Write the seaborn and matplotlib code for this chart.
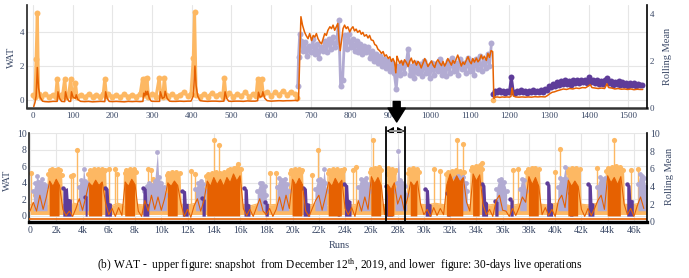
import numpy as np
import matplotlib
matplotlib.use("Agg")
import matplotlib.pyplot as plt
import seaborn as sns
from matplotlib.lines import Line2D

# ---------------- colours ----------------
C_LO = "#fdb863"   # light orange
C_DO = "#e66101"   # dark orange (rolling mean)
C_LP = "#b2abd2"   # light purple
C_DP = "#5e3c99"   # dark purple
TXT = "#3a4866"

# ---------------- upper chart data (Runs, WAT) ----------------
TOP_LO = [(0,0.3),(5,0.15),(8,2.4),(11,5.1),(14,0.35),(20,0.2),(30,0.35),(40,0.2),(50,0.3),(57,0.15),
          (61,1.25),(65,0.3),(70,0.2),(75,0.35),(80,1.25),(84,0.2),(90,0.3),(95,1.25),(99,0.25),(103,0.35),
          (107,1.0),(111,0.2),(120,0.3),(130,0.15),(140,0.35),(150,0.2),(160,0.3),(170,0.2),(177,0.35),
          (181,1.25),(185,0.25),(190,0.35),(200,0.2),(210,0.3),(220,0.15),(230,0.35),(240,0.2),(250,0.3),
          (260,0.2),(270,0.35),(276,1.25),(279,0.3),(281,1.25),(284,0.3),(287,1.3),(291,0.2),(300,0.35),
          (310,0.2),(318,1.3),(322,0.3),(327,0.2),(331,1.32),(335,0.3),(340,0.2),(350,0.35),(360,0.2),
          (370,0.3),(380,0.45),(390,0.25),(398,0.35),(404,2.5),(407,5.15),(411,0.3),(420,0.2),(430,0.35),
          (440,0.2),(450,0.4),(460,0.25),(470,0.35),(478,0.2),(482,1.3),(486,0.3),(495,0.4),(505,0.2),
          (515,0.35),(525,0.25),(535,0.45),(545,0.2),(555,0.35),(562,0.25),(566,1.25),(570,0.3),(576,1.25),
          (580,0.35),(590,0.5),(600,0.25),(610,0.45),(620,0.3),(630,0.55),(640,0.3),(650,0.5),(660,0.35),
          (666,0.1)]
TOP_LO_TAIL = (1160, 0.02)

TOP_LP_HEAD = [(667,0.85),(669,2.55),(672,3.9)]
TOP_LP_START, TOP_LP_STEP = 675, 5
TOP_LP_VALS = [3.5,2.9,3.4,2.6,3.2,2.8,3.6,2.7,3.3,2.5,3.1,2.9,3.5,2.8,3.6,3.0,3.7,3.1,3.4,4.7,
               0.8,1.15,3.8,3.0,3.9,3.1,3.6,2.9,3.5,2.8,3.3,2.7,3.2,2.8,3.1,2.5,2.9,2.3,2.7,2.2,
               2.6,2.0,2.4,1.9,2.3,1.7,2.2,1.6,0.65,2.0,1.5,2.2,1.6,2.1,3.0,1.5,2.0,1.3,2.2,1.6,
               2.1,1.4,2.3,1.6,2.0,1.3,2.2,1.5,2.1,1.7,2.4,1.5,2.0,1.4,2.3,1.6,2.5,1.7,2.2,1.5,
               2.4,1.8,2.2,1.6,2.5,1.7,2.3,1.5,2.4,1.8,2.6,1.7,2.3,1.9,2.7,2.0,3.35]

TOP_DP_START, TOP_DP_STEP = 1160, 5
TOP_DP_VALS = [0.35,0.55,0.45,0.6,0.45,0.55,0.4,0.55,0.45,1.37,0.5,0.4,0.55,0.45,0.6,0.45,0.55,0.4,
               0.55,0.45,0.6,0.45,0.55,0.5,0.6,0.5,0.65,0.6,0.8,0.75,0.95,0.85,1.05,0.9,1.1,0.95,
               1.15,0.95,1.1,0.9,1.15,1.0,1.2,1.0,1.15,1.05,1.2,1.0,1.35,1.05,1.2,1.0,1.15,0.95,
               1.1,0.95,1.15,1.28,1.0,1.1,0.9,1.05,0.95,1.1,0.9,1.05,0.9,1.0,0.85,1.0,0.9,1.0,
               0.85,0.95,0.9,0.9]

# rolling mean (right axis units)
TOP_DO = [(2,0.05),(5,0.22),(8,0.5),(11,1.72),(14,0.85),(18,0.45),(24,0.28),(30,0.26),(40,0.25),(50,0.27),
          (61,0.27),(63,0.68),(67,0.4),(72,0.27),(80,0.26),(82,0.68),(86,0.4),(91,0.27),(95,0.27),(97,0.68),
          (101,0.45),(107,0.4),(109,0.55),(113,0.35),(120,0.27),(130,0.26),(140,0.27),(150,0.25),(160,0.26),
          (170,0.27),(181,0.26),(183,0.68),(187,0.4),(192,0.27),(200,0.26),(210,0.27),(220,0.26),(230,0.25),
          (240,0.27),(250,0.26),(260,0.27),(270,0.26),(277,0.27),(279,0.62),(282,0.5),(284,0.7),(287,0.55),
          (289,0.7),(293,0.4),(298,0.28),(305,0.27),(312,0.27),(319,0.27),(321,0.68),(326,0.4),(331,0.45),
          (333,0.7),(338,0.4),(344,0.28),(350,0.27),(360,0.27),(370,0.28),(380,0.27),(390,0.28),(398,0.28),
          (404,0.5),(408,1.78),(411,0.95),(415,0.5),(421,0.3),(430,0.28),(440,0.27),(450,0.28),(460,0.28),
          (470,0.27),(481,0.28),(484,0.68),(488,0.4),(493,0.28),(500,0.27),(510,0.28),(520,0.28),(530,0.27),
          (540,0.29),(550,0.28),(560,0.28),(566,0.3),(568,0.66),(572,0.45),(577,0.5),(579,0.68),(584,0.4),
          (590,0.3),(600,0.28),(610,0.29),(620,0.3),(630,0.29),(640,0.3),(650,0.3),(660,0.31),(667,0.3),
          (669,0.35),(675,3.89),(679,3.53),(684,3.24),(688,3.09),(693,2.95),(697,3.17),(702,2.87),(706,3.09),
          (710,3.02),(714,3.17),(718,2.95),(723,2.8),(727,2.73),(731,2.95),(735,3.17),(739,3.09),(743,3.31),
          (748,3.46),(752,3.38),(756,3.53),(760,3.31),(764,3.46),(768,3.6),(771,2.87),(774,2.44),(778,2.95),
          (781,3.38),(785,3.53),(789,3.38),(793,3.46),(798,3.24),(802,3.38),(806,3.46),(810,3.28),(814,3.36),
          (818,3.22),(823,3.3),(827,3.14),(831,3.22),(835,3.06),(840,3.12),(844,2.98),(848,3.09),(852,2.9),
          (857,2.87),(861,2.7),(865,2.66),(869,2.5),(873,2.44),(878,2.32),(882,2.4),(886,2.2),(890,2.26),
          (895,2.1),(899,2.18),(903,1.98),(907,2.1),(911,1.93),(914,1.49),(917,2.2),(920,2.05),(924,1.9),
          (928,2.02),(932,1.82),(936,2.05),(941,1.92),(945,1.76),(949,1.98),(953,2.12),(957,1.9),(961,2.02),
          (966,1.82),(970,1.98),(974,1.88),(978,1.7),(983,1.92),(987,2.1),(991,1.95),(995,1.76),(1000,1.9),
          (1004,2.0),(1008,1.82),(1012,1.72),(1016,1.95),(1020,2.05),(1025,1.9),(1029,1.8),(1033,1.98),
          (1037,1.78),(1041,1.92),(1045,2.1),(1050,1.95),(1054,1.82),(1058,2.02),(1062,1.9),(1066,2.08),
          (1070,2.25),(1075,2.0),(1079,1.78),(1083,1.95),(1087,1.85),(1092,2.05),(1096,2.18),(1100,1.98),
          (1104,1.88),(1108,2.1),(1112,1.95),(1117,2.12),(1121,1.96),(1125,2.05),(1129,2.25),(1133,2.08),
          (1137,2.2),(1142,2.02),(1146,2.32),(1150,2.15),(1154,2.44),(1158,2.4),(1161,0.4),(1164,0.45),
          (1170,0.46),(1176,0.44),(1182,0.46),(1188,0.45),(1194,0.46),(1200,0.45),(1204,0.48),(1207,0.84),
          (1210,0.5),(1216,0.46),(1224,0.45),(1232,0.46),(1240,0.45),(1248,0.46),(1256,0.45),(1264,0.47),
          (1272,0.46),(1280,0.47),(1290,0.46),(1296,0.52),(1302,0.6),(1308,0.66),(1314,0.68),(1320,0.72),
          (1328,0.76),(1336,0.8),(1344,0.78),(1352,0.82),(1360,0.8),(1368,0.84),(1376,0.82),(1384,0.86),
          (1392,0.85),(1400,0.94),(1404,0.98),(1408,0.86),(1416,0.84),(1424,0.82),(1432,0.84),(1440,0.82),
          (1446,1.02),(1450,0.86),(1458,0.84),(1466,0.8),(1474,0.82),(1482,0.79),(1490,0.8),(1498,0.78),
          (1506,0.8),(1514,0.77),(1522,0.79),(1530,0.78),(1536,0.78)]

TOP_XTICKS = list(range(0, 1501, 100))
TOP_YTICKS = [0, 2, 4]

# ---------------- lower chart data (k runs, WAT) ----------------
BOT_LO_ENV = [(0.0,1.3),(0.4,1.5),(0.8,1.2),(1.35,1.4),
    (1.4,5.0),(1.5,5.5),(1.6,5.2),(1.7,5.6),(1.8,5.3),(1.9,5.5),(2.0,5.2),(2.1,5.6),(2.2,5.3),(2.3,5.5),(2.4,4.9),(2.45,1.4),
    (2.9,1.2),(3.4,1.5),(3.9,1.3),(4.4,1.4),
    (4.45,5.1),(4.55,5.5),(4.7,5.3),(4.85,5.6),(5.0,5.4),(5.15,5.7),(5.3,5.3),(5.45,5.6),(5.6,5.4),(5.75,5.5),(5.8,1.4),
    (6.2,1.2),(6.7,1.5),(7.15,1.3),
    (7.2,5.2),(7.3,5.5),(7.45,5.3),(7.6,5.6),(7.75,5.4),(7.9,5.6),(8.05,5.3),(8.1,1.4),
    (8.6,1.3),(9.2,1.5),(9.8,1.2),(10.35,1.4),
    (10.4,4.9),(10.5,5.2),(10.65,5.0),(10.8,5.3),(10.95,5.1),(11.1,5.3),(11.25,5.0),(11.4,5.2),(11.5,1.4),
    (12.0,1.3),(12.6,1.5),(13.35,1.3),
    (13.4,4.8),(13.55,5.1),(13.7,4.9),(13.85,5.2),(14.0,5.0),(14.15,5.3),(14.3,4.9),(14.45,5.2),(14.6,5.0),(14.75,5.3),
    (14.9,5.0),(15.05,5.5),(15.2,5.7),(15.35,5.5),(15.5,5.8),(15.65,5.6),(15.8,5.9),(15.95,5.7),(16.1,5.6),(16.15,1.4),
    (16.8,1.2),(17.5,1.5),(18.2,1.3),(19.0,1.4),(19.75,1.3),
    (19.8,5.2),(19.9,5.5),(20.05,5.3),(20.2,5.6),(20.35,5.4),(20.5,5.6),(20.65,5.3),(20.75,5.5),(20.8,1.4),
    (21.3,1.3),(22.0,1.5),(22.65,1.3),
    (22.7,5.2),(22.8,5.5),(22.95,5.3),(23.1,5.6),(23.25,5.4),(23.4,5.6),(23.55,5.3),(23.7,5.5),(23.85,5.4),(23.95,5.6),(24.0,1.4),
    (24.6,1.3),(25.2,1.5),(25.85,1.3),
    (25.9,5.3),(26.0,5.7),(26.15,5.5),(26.3,5.8),(26.45,5.6),(26.6,5.9),(26.75,5.5),(26.8,1.4),
    (27.15,1.3),
    (27.2,5.0),(27.3,5.8),(27.45,5.3),(27.6,5.6),(27.75,5.2),(27.85,5.5),(27.9,1.4),
    (28.3,1.3),(28.75,1.4),
    (28.8,5.2),(28.9,5.6),(29.05,5.4),(29.2,5.8),(29.35,5.5),(29.5,5.6),(29.65,5.3),(29.7,1.4),
    (30.2,1.3),(30.9,1.5),(31.65,1.3),
    (31.7,5.0),(31.85,5.3),(32.0,5.1),(32.15,5.4),(32.3,5.2),(32.45,5.5),(32.6,5.2),(32.75,5.4),(32.9,5.1),(33.05,5.3),(33.1,1.4),
    (33.55,1.3),
    (33.6,5.5),(33.7,5.9),(33.85,5.7),(34.0,6.0),(34.15,5.8),(34.3,6.1),(34.45,5.7),(34.5,1.4),
    (35.0,1.3),(35.8,1.5),(36.6,1.2),(37.2,1.4),(37.75,1.3),
    (37.8,5.3),(37.9,5.7),(38.05,5.5),(38.2,5.8),(38.35,5.6),(38.5,5.8),(38.65,5.5),(38.8,5.6),(38.85,1.4),
    (39.4,1.3),(40.1,1.5),(40.85,1.3),
    (40.9,5.3),(41.0,5.7),(41.15,5.5),(41.3,5.8),(41.45,5.6),(41.6,5.8),(41.75,5.4),(41.9,5.6),(41.95,1.4),
    (42.5,1.3),(43.2,1.5),(43.85,1.3),
    (43.9,5.4),(44.0,5.8),(44.15,5.6),(44.3,5.9),(44.45,5.7),(44.6,6.0),(44.75,5.7),(44.9,5.9),(45.05,5.6),(45.2,5.5),(45.25,1.4),
    (45.8,1.3),(46.4,1.5),(46.95,1.3)]

BOT_LO_SPK_K = [0.05,0.35,3.1,3.3,3.6,6.05,6.45,6.6,9.0,9.2,9.35,12.25,12.6,14.05,14.4,15.86,18.3,18.7,
                21.45,21.9,24.57,24.83,26.15,30.8,31.2,32.54,32.95,34.4,36.8,37.2,40.0,40.4,43.15,44.5,45.8,46.3]
BOT_LO_SPK_V = [5.2,2.5,4.8,4.9,8.0,5.6,5.6,5.1,5.6,5.5,4.4,5.4,5.0,9.1,8.6,6.2,5.2,5.2,
                4.9,8.0,5.5,5.9,9.2,5.7,5.4,9.2,8.7,6.4,5.5,5.6,5.3,8.1,5.8,9.2,5.5,5.6]

BOT_LP = [
    [(0.25,3.0),(0.4,4.0),(0.55,4.8),(0.7,4.1),(0.9,4.4),(1.1,3.8),(1.3,3.6)],
    [(3.7,3.5),(3.85,4.3),(4.0,4.0),(4.1,5.6),(4.2,4.2),(4.35,3.9),(4.5,3.3)],
    [(8.7,3.0),(8.9,3.6),(9.1,4.0),(9.3,3.7),(9.5,4.2),(9.7,7.7),(9.8,4.7),(10.0,4.0),(10.2,3.5),(10.4,2.5)],
    [(12.6,3.2),(12.8,4.0),(13.0,4.2),(13.2,3.8),(13.4,3.0)],
    [(17.3,3.0),(17.5,3.9),(17.7,4.0),(17.9,3.6),(18.0,2.5)],
    [(18.8,3.5),(19.0,4.6),(19.2,4.3),(19.4,4.5),(19.6,3.8),(19.7,3.0)],
    [(21.7,3.2),(21.9,4.3),(22.1,4.5),(22.3,4.2),(22.4,5.6),(22.5,4.0),(22.6,3.0)],
    [(25.0,3.5),(25.2,4.5),(25.4,4.3),(25.6,4.6),(25.8,3.8),(25.9,3.0)],
    [(27.8,3.0),(27.95,4.0),(28.05,7.8),(28.15,4.3),(28.35,4.0),(28.55,3.6),(28.7,2.5)],
    [(32.2,3.5),(32.4,4.6),(32.6,4.8),(32.8,4.4),(33.0,4.7),(33.2,4.0),(33.3,3.0)],
    [(35.5,3.2),(35.7,4.3),(35.9,4.5),(36.1,4.1),(36.3,3.0)],
    [(37.3,3.2),(37.45,4.5),(37.65,4.3),(37.8,3.0)],
    [(40.2,3.5),(40.4,4.6),(40.6,4.4),(40.75,5.9),(40.85,4.5),(41.0,3.2)],
    [(43.2,3.5),(43.4,4.7),(43.6,4.5),(43.8,4.6),(43.9,3.5)],
    [(46.3,3.8),(46.45,5.1),(46.6,4.8),(46.75,4.6),(46.9,3.5)],
]

BOT_DP = [
    [(2.5,3.3),(2.6,3.5),(2.7,3.3),(2.85,3.4),(2.9,2.1),(3.15,2.0)],
    [(4.2,2.3),(4.35,2.1)],
    [(5.7,3.4),(5.8,3.5),(5.95,3.3),(6.0,1.6),(6.2,1.5)],
    [(8.6,3.4),(8.7,3.5),(8.85,3.3),(8.9,1.5),(9.05,1.4)],
    [(11.6,3.0),(11.7,3.1),(11.85,3.0),(11.9,1.5),(12.05,1.5)],
    [(13.1,2.1),(13.35,2.0)],
    [(16.3,3.3),(16.4,3.4),(16.55,3.2),(16.6,1.5),(16.75,1.4)],
    [(17.9,1.6),(18.15,1.5)],
    [(20.8,3.4),(20.9,3.5),(21.05,3.3),(21.1,1.6),(21.3,1.5)],
    [(23.4,2.3),(23.6,2.2)],
    [(23.95,3.8),(24.05,3.9),(24.2,3.7),(24.25,2.0),(24.45,1.8)],
    [(27.15,3.6),(27.25,3.7),(27.4,3.5),(27.45,1.8),(27.6,1.6)],
    [(30.1,3.2),(30.2,3.3),(30.35,3.1),(30.4,1.5),(30.55,1.4)],
    [(31.75,2.8),(32.0,2.7)],
    [(34.4,3.8),(34.5,3.9),(34.65,3.7),(34.7,1.8),(34.85,1.6)],
    [(35.4,1.8),(35.65,1.7)],
    [(36.55,2.0),(36.8,1.9)],
    [(39.35,3.9),(39.45,4.0),(39.6,3.8),(39.65,1.6),(39.8,1.5)],
    [(41.1,2.8),(41.35,2.6)],
    [(42.5,3.8),(42.6,3.9),(42.75,3.7),(42.8,1.6),(42.95,1.5)],
    [(45.45,3.8),(45.55,3.9),(45.7,3.7),(45.75,2.0),(45.95,1.9)],
]

# rolling mean, lower chart (right axis units), sampled every 0.25k runs
BOT_DO_STEP = 0.25
BOT_DO_VALS = [
    1.2,2.2,1.2,3.0,1.4,2.8,4.6,4.0,
    4.8,4.1,1.4,0.7,1.2,0.6,1.5,2.6,
    1.3,2.8,4.4,4.0,4.7,4.1,4.5,2.2,
    0.8,1.5,0.6,1.6,0.7,4.5,4.0,4.8,
    4.2,1.2,0.6,2.4,1.2,3.0,1.4,2.8,
    1.3,2.6,4.4,4.0,4.6,4.1,2.0,0.6,
    1.4,0.5,1.8,2.6,1.2,2.4,4.6,4.0,
    5.0,4.2,4.8,4.0,5.0,4.4,5.4,4.6,
    5.2,1.5,0.7,1.4,0.6,1.6,2.6,1.2,
    0.8,1.5,0.6,1.4,2.8,1.3,3.0,1.5,
    4.8,4.1,4.9,4.2,1.2,0.6,1.5,2.4,
    3.0,1.3,2.8,4.5,4.0,4.9,4.2,4.7,
    1.5,0.8,1.6,0.6,2.4,1.2,2.8,1.4,
    5.1,4.3,5.0,4.1,0.8,4.2,3.6,4.4,
    2.0,3.0,1.3,2.6,4.5,4.0,4.6,2.0,
    0.8,1.4,0.6,1.6,0.7,1.5,0.8,4.2,
    5.4,4.4,5.2,4.5,5.0,2.2,1.2,5.4,
    4.6,5.3,2.0,0.8,1.4,0.6,2.4,3.0,
    1.3,1.2,0.6,1.5,0.7,1.6,2.8,2.2,
    5.1,4.2,5.0,4.0,0.8,1.6,0.7,1.4,
    0.6,2.4,3.0,1.6,4.7,4.0,4.6,4.0,
    1.4,0.6,1.5,0.7,1.5,2.4,3.0,1.4,
    5.2,4.4,5.0,4.2,5.1,2.0,0.8,1.5,
    0.6,1.8,2.8,1.5]

BOT_XTICKS = list(range(0, 47, 2))
BOT_XLABELS = ["0" if k == 0 else f"{k}k" for k in BOT_XTICKS]
BOT_YTICKS = [0, 2, 4, 6, 8, 10]

CAPTION = ("(b) WAT -  upper figure: snapshot  from December 12$^{\\rm th}$, 2019, "
           "and lower  figure: 30-days live operations")

# ---------------- style ----------------
sns.set_theme(style="whitegrid")
plt.rcParams["font.family"] = ["Liberation Serif", "DejaVu Serif"]
plt.rcParams["mathtext.fontset"] = "stix"

W, H = 689, 278
fig = plt.figure(figsize=(W / 100, H / 100), dpi=100)
fig.patch.set_facecolor("white")


def frac_rect(x0, y0, x1, y1):
    return [x0 / W, 1 - y1 / H, (x1 - x0) / W, (y1 - y0) / H]


ax1 = fig.add_axes(frac_rect(27, 5, 646.7, 108))
ax2 = fig.add_axes(frac_rect(29, 132.7, 646.7, 222))
tw1 = ax1.twinx()
tw2 = ax2.twinx()

# ---------------- upper chart ----------------
lo_x = [p[0] for p in TOP_LO]
lo_y = [p[1] for p in TOP_LO]
sns.lineplot(x=lo_x, y=lo_y, ax=ax1, color=C_LO, lw=2.2, marker="o", ms=4.3, mew=0,
             estimator=None, sort=False, zorder=3)
sns.scatterplot(x=[TOP_LO_TAIL[0]], y=[TOP_LO_TAIL[1]], ax=ax1, color=C_LO, s=16, linewidth=0, zorder=3)

lp_x = [p[0] for p in TOP_LP_HEAD] + list(TOP_LP_START + TOP_LP_STEP * np.arange(len(TOP_LP_VALS)))
lp_y = [p[1] for p in TOP_LP_HEAD] + TOP_LP_VALS
sns.lineplot(x=lp_x, y=lp_y, ax=ax1, color=C_LP, lw=2.0, marker="o", ms=4.3, mew=0,
             estimator=None, sort=False, zorder=3)

dp_x = list(TOP_DP_START + TOP_DP_STEP * np.arange(len(TOP_DP_VALS)))
sns.lineplot(x=dp_x, y=TOP_DP_VALS, ax=ax1, color=C_DP, lw=2.0, marker="o", ms=4.3, mew=0,
             estimator=None, sort=False, zorder=3)

do_x = [p[0] for p in TOP_DO]
do_y = [p[1] for p in TOP_DO]
sns.lineplot(x=do_x, y=do_y, ax=tw1, color=C_DO, lw=1.1, estimator=None, sort=False)

ax1.set_xlim(-15, 1546)
ax1.set_ylim(-0.47, 5.59)
tw1.set_ylim(-0.013, 4.39)
ax1.set_xticks(TOP_XTICKS)
ax1.set_yticks(TOP_YTICKS)
tw1.set_yticks(TOP_YTICKS)

# ---------------- lower chart ----------------
env_k = np.array([p[0] for p in BOT_LO_ENV])
env_v = np.array([p[1] for p in BOT_LO_ENV])
ax2.fill_between(env_k, 0.15, env_v, color=C_LO, lw=0, zorder=2)
sns.lineplot(x=env_k, y=env_v, ax=ax2, color=C_LO, lw=0.9, estimator=None, sort=False, zorder=2)
top_mask = env_v > 3
sns.scatterplot(x=env_k[top_mask], y=env_v[top_mask], ax=ax2, color=C_LO, s=13, linewidth=0, zorder=2)
ax2.vlines(BOT_LO_SPK_K, 1.3, BOT_LO_SPK_V, color=C_LO, lw=1.0, zorder=2)
sns.scatterplot(x=BOT_LO_SPK_K, y=BOT_LO_SPK_V, ax=ax2, color=C_LO, s=14, linewidth=0, zorder=2)

for blk in BOT_LP:
    bk = [p[0] for p in blk]
    bv = [p[1] for p in blk]
    ax2.fill_between(bk, 0.6, bv, color=C_LP, lw=0, zorder=3)
    sns.scatterplot(x=bk, y=bv, ax=ax2, color=C_LP, s=12, linewidth=0, zorder=3)

for blk in BOT_DP:
    bk = [p[0] for p in blk]
    bv = [p[1] for p in blk]
    ax2.fill_between(bk, -0.05, bv, color=C_DP, lw=0, zorder=4)
    sns.scatterplot(x=bk[:1], y=bv[:1], ax=ax2, color=C_DP, s=10, linewidth=0, zorder=4)

bdo_k = BOT_DO_STEP * np.arange(len(BOT_DO_VALS))
bdo_v = np.array(BOT_DO_VALS)
tw2.fill_between(bdo_k, 0.6, bdo_v, where=bdo_v >= 3.2, color=C_DO, lw=0)
sns.lineplot(x=bdo_k, y=bdo_v, ax=tw2, color=C_DO, lw=0.8, estimator=None, sort=False)
tw2.axhline(0.3, color=C_DO, lw=1.2)

ax2.set_xlim(-0.076, 46.97)
ax2.set_ylim(-0.76, 10.04)
tw2.set_ylim(-0.03, 10.07)
ax2.set_xticks(BOT_XTICKS)
ax2.set_xticklabels(BOT_XLABELS)
ax2.set_yticks(BOT_YTICKS)
tw2.set_yticks(BOT_YTICKS)

# ---------------- axes styling ----------------
for ax, tw, xs in ((ax1, tw1, 6.5), (ax2, tw2, 7)):
    ax.set_facecolor("white")
    ax.set_axisbelow(True)
    ax.grid(True, color="#e6e6e6", lw=0.8)
    tw.grid(False)
    for t in (ax, tw):
        t.set_xlabel("")
        t.set_ylabel("")
        t.spines["top"].set_visible(False)
    ax.spines["right"].set_visible(False)
    tw.spines["left"].set_visible(False)
    tw.spines["bottom"].set_visible(False)
    ax.spines["left"].set_color("#222222")
    ax.spines["left"].set_linewidth(1.2)
    ax.spines["bottom"].set_color("#333333")
    ax.spines["bottom"].set_linewidth(1.8)
    tw.spines["right"].set_color("black")
    tw.spines["right"].set_linewidth(1.2)
    ax.tick_params(axis="x", length=0, labelsize=xs, colors=TXT, pad=3.2)
    ax.tick_params(axis="y", length=0, labelsize=xs, colors=TXT, pad=1.8)
    tw.tick_params(axis="y", length=0, labelsize=xs, colors=TXT, pad=2.2)

ax2.spines["bottom"].set_color("black")
ax2.spines["bottom"].set_linewidth(2.4)
ax2.tick_params(axis="x", pad=2.6)

# ---------------- texts ----------------
fig.text(11 / W, 1 - 57.5 / H, "WAT", rotation=90, ha="center", va="center", fontsize=7.5, color=TXT)
fig.text(7 / W, 1 - 180 / H, "WAT", rotation=90, ha="center", va="center", fontsize=7.5, color=TXT)
fig.text(668 / W, 1 - 56 / H, "Rolling Mean", rotation=90, ha="center", va="center", fontsize=7.5, color=TXT)
fig.text(670 / W, 1 - 176.5 / H, "Rolling Mean", rotation=90, ha="center", va="center", fontsize=7.5, color=TXT)
fig.text(339 / W, 1 - 245 / H, "Runs", ha="center", va="center", fontsize=7.5, color=TXT)
fig.text(340 / W, 1 - 265 / H, CAPTION, ha="center", va="center", fontsize=8.3, color="black")

# ---------------- zoom marker (arrow + window) ----------------
fig.add_artist(Line2D([385.7 / W, 385.7 / W], [1 - 126.7 / H, 1 - 222 / H], color="black", lw=1.3))
fig.add_artist(Line2D([405.3 / W, 405.3 / W], [1 - 126.7 / H, 1 - 222 / H], color="black", lw=1.3))
ax1.annotate("", xy=(386.5, H - 131), xytext=(404.5, H - 131), xycoords="figure pixels",
             textcoords="figure pixels",
             arrowprops=dict(arrowstyle="<|-|>,head_length=0.35,head_width=0.2", color="black",
                             lw=0.8, shrinkA=0, shrinkB=0), annotation_clip=False)
fig.add_artist(Line2D([389.5 / W, 401.5 / W], [1 - 131 / H, 1 - 131 / H], color="#9a9a9a", lw=1.4))
ax1.annotate("", xy=(396.7, H - 122), xytext=(396.7, H - 101.5), xycoords="figure pixels",
             textcoords="figure pixels",
             arrowprops=dict(arrowstyle="simple,head_length=1.0,head_width=1.25,tail_width=0.5",
                             color="black", shrinkA=0, shrinkB=0, mutation_scale=10),
             annotation_clip=False)

fig.savefig("out.png", dpi=100, facecolor="white")
